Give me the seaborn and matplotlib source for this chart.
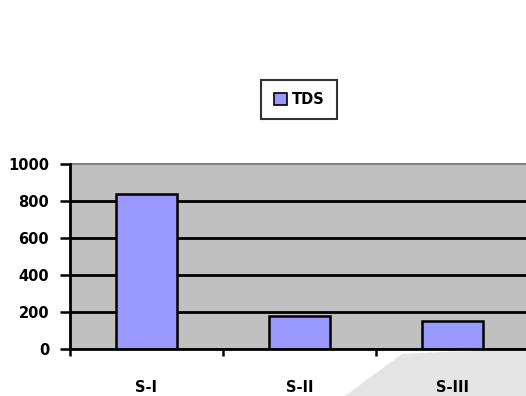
import matplotlib
matplotlib.use("Agg")
import matplotlib.pyplot as plt
import seaborn as sns
import pandas as pd
from matplotlib.patches import Polygon

# Data
sites = ["S-I", "S-II", "S-III"]
tds = [840, 180, 150]
y_ticks = [0, 200, 400, 600, 800, 1000]

sns.set_theme(style="white")
plt.rcParams["font.family"] = ["DejaVu Sans"]
plt.rcParams["font.weight"] = "bold"
plt.rcParams["text.color"] = "black"
plt.rcParams["axes.labelcolor"] = "black"
plt.rcParams["xtick.color"] = "black"
plt.rcParams["ytick.color"] = "black"

W, H = 526, 396
fig = plt.figure(figsize=(W / 100, H / 100), dpi=100)
fig.patch.set_facecolor("white")

# faint decorative wedge at lower right, behind everything else
wedge = Polygon(
    [(345 / W, 0), (372 / W, 20 / H), (402 / W, 42 / H), (440 / W, 44 / H),
     (530 / W, 46 / H), (530 / W, 0)],
    closed=True, transform=fig.transFigure, facecolor="#e4e4e4",
    edgecolor="none", zorder=-5)
fig.patches.append(wedge)

left, right, top, bottom = 70, 529, 164, 349
ax = fig.add_axes([left / W, 1 - bottom / H, (right - left) / W, (bottom - top) / H])
ax.set_facecolor("#c0c0c0")
ax.set_zorder(1)

df = pd.DataFrame({"site": sites, "TDS": tds})
sns.barplot(data=df, x="site", y="TDS", ax=ax, color="#9999ff", width=0.4,
            edgecolor="black", linewidth=1.8, saturation=1, label="TDS", zorder=3)

ax.set_xlim(-0.5, len(sites) - 0.5)
ax.set_ylim(0, 1000)
ax.set_yticks(y_ticks)
ax.set_xlabel("")
ax.set_ylabel("")

# horizontal grid lines (except the top edge, which is the gray frame)
ax.yaxis.grid(True, color="black", linewidth=2)
ax.set_axisbelow(True)
for gl in ax.get_ygridlines():
    gl.set_zorder(1)
ax.get_ygridlines()[-1].set_visible(False)

for side in ["left", "bottom"]:
    ax.spines[side].set_color("black")
    ax.spines[side].set_linewidth(2)
    ax.spines[side].set_zorder(4)
ax.spines["top"].set_color("#808080")
ax.spines["top"].set_linewidth(1.5)
ax.spines["right"].set_visible(False)

ax.tick_params(axis="y", direction="out", length=7, width=1.8, color="black",
               left=True, pad=8, labelsize=10.5, labelcolor="black")
ax.set_xticks([i - 0.5 for i in range(len(sites) + 1)], minor=True)
ax.tick_params(axis="x", which="minor", direction="out", length=5, width=1.8,
               color="black", bottom=True)
ax.tick_params(axis="x", which="major", length=0, pad=22, labelsize=10.5,
               labelcolor="black")
for lbl in ax.get_xticklabels() + ax.get_yticklabels():
    lbl.set_fontweight("bold")

leg = ax.legend(loc="center", bbox_to_anchor=(299 / W, 1 - 99.5 / H),
                bbox_transform=fig.transFigure, frameon=True, fancybox=False,
                handlelength=0.9, handleheight=0.9, handletextpad=0.3,
                borderpad=0.85, prop={"weight": "bold", "size": 10.5})
leg.get_frame().set_edgecolor("black")
leg.get_frame().set_linewidth(1.5)
leg.get_frame().set_facecolor("white")
for t in leg.get_texts():
    t.set_color("black")
for h in leg.legend_handles:
    h.set_linewidth(1.2)
    h.set_edgecolor("black")

fig.savefig("out.png", dpi=100)
